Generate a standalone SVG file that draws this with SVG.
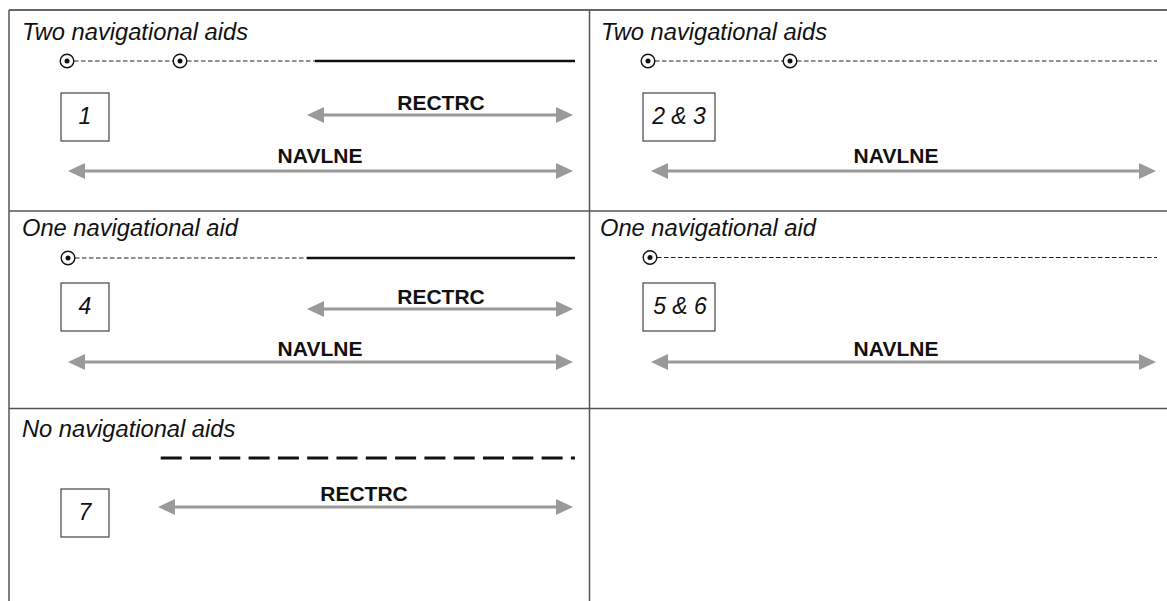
<svg xmlns="http://www.w3.org/2000/svg" width="1167" height="601" viewBox="0 0 1167 601">
<style>
.frame{stroke:#555;stroke-width:1.5;fill:none}
.title{font-family:"Liberation Sans",Arial,sans-serif;font-style:italic;font-size:23.7px;fill:#111}
.num{font-family:"Liberation Sans",Arial,sans-serif;font-style:italic;font-size:23px;fill:#111;text-anchor:middle}
.lbl{font-family:"Liberation Sans",Arial,sans-serif;font-weight:bold;font-size:21px;fill:#111;text-anchor:middle}
.box{fill:#fff;stroke:#444;stroke-width:1.2}
.thin{stroke:#222;stroke-width:1.1;stroke-dasharray:4.5 2.5;fill:none}
.solid{stroke:#111;stroke-width:2.7;fill:none}
.long{stroke:#111;stroke-width:3;stroke-dasharray:21 8.3;fill:none}
.arr{stroke:#9a9a9a;stroke-width:3;fill:none;marker-start:url(#ah);marker-end:url(#ah)}
.aidc{fill:#fff;stroke:#111;stroke-width:1.4}
.aidd{fill:#111}
</style>
<defs>
<marker id="ah" markerUnits="userSpaceOnUse" markerWidth="17" markerHeight="16" viewBox="0 0 17 16" refX="9" refY="8" orient="auto-start-reverse">
<path d="M0,0 L17,8 L0,16 z" fill="#9a9a9a"/>
</marker>
<g id="aid"><circle class="aidc" cx="0" cy="0" r="6.8"/><circle class="aidd" cx="0" cy="0" r="2.5"/></g>
</defs>
<rect width="1167" height="601" fill="#fff"/>
<g id="frame">
<line class="frame" x1="9" y1="10" x2="1167" y2="10" style="stroke:#333"/>
<line class="frame" x1="9" y1="10" x2="9" y2="601"/>
<line class="frame" x1="9" y1="211" x2="1167" y2="211"/>
<line class="frame" x1="9" y1="408.5" x2="1167" y2="408.5"/>
<line class="frame" x1="589.5" y1="10" x2="589.5" y2="601"/>
</g>
<g id="connectors">
<line class="thin" x1="74" y1="61" x2="173" y2="61"/>
<line class="thin" x1="187" y1="61" x2="315" y2="61"/>
<line class="solid" x1="315" y1="61" x2="575" y2="61"/>
<line class="arr" x1="315" y1="115" x2="565" y2="115"/>
<line class="arr" x1="76" y1="171" x2="565" y2="171"/>
<line class="thin" x1="655" y1="61" x2="783" y2="61"/>
<line class="thin" x1="797" y1="61" x2="1157" y2="61"/>
<line class="arr" x1="659" y1="171" x2="1148" y2="171"/>
<line class="thin" x1="75" y1="258" x2="307" y2="258"/>
<line class="solid" x1="307" y1="258" x2="575" y2="258"/>
<line class="arr" x1="315" y1="309" x2="565" y2="309"/>
<line class="arr" x1="76" y1="362" x2="565" y2="362"/>
<line class="thin" x1="657" y1="257.5" x2="1157" y2="257.5"/>
<line class="arr" x1="659" y1="362" x2="1148" y2="362"/>
<line class="long" x1="160.7" y1="458" x2="575" y2="458"/>
<line class="arr" x1="166" y1="507" x2="565" y2="507"/>
</g>
<g id="panel1">
<text class="title" x="22" y="40">Two navigational aids</text>
<use href="#aid" x="67" y="61"/>
<use href="#aid" x="180" y="61"/>
<rect class="box" x="61" y="93" width="48" height="48"/>
<text class="num" x="85" y="124">1</text>
<text class="lbl" x="441" y="110">RECTRC</text>
<text class="lbl" x="320" y="163">NAVLNE</text>
</g>
<g id="panel23">
<text class="title" x="601" y="40">Two navigational aids</text>
<use href="#aid" x="648" y="61"/>
<use href="#aid" x="790" y="61"/>
<rect class="box" x="643" y="93" width="72" height="48"/>
<text class="num" x="679" y="124">2 &amp; 3</text>
<text class="lbl" x="896" y="163">NAVLNE</text>
</g>
<g id="panel4">
<text class="title" x="22" y="235.5">One navigational aid</text>
<use href="#aid" x="68" y="258"/>
<rect class="box" x="61" y="283" width="48" height="48"/>
<text class="num" x="85" y="313.5">4</text>
<text class="lbl" x="441" y="304">RECTRC</text>
<text class="lbl" x="320" y="356">NAVLNE</text>
</g>
<g id="panel56">
<text class="title" x="600" y="235.5">One navigational aid</text>
<use href="#aid" x="650" y="257.5"/>
<rect class="box" x="643" y="283" width="72" height="48"/>
<text class="num" x="680" y="313.5">5 &amp; 6</text>
<text class="lbl" x="896" y="356">NAVLNE</text>
</g>
<g id="panel7">
<text class="title" x="22" y="436.5">No navigational aids</text>
<rect class="box" x="61" y="489" width="48" height="48"/>
<text class="num" x="85" y="519.5">7</text>
<text class="lbl" x="364" y="501">RECTRC</text>
</g>
</svg>
